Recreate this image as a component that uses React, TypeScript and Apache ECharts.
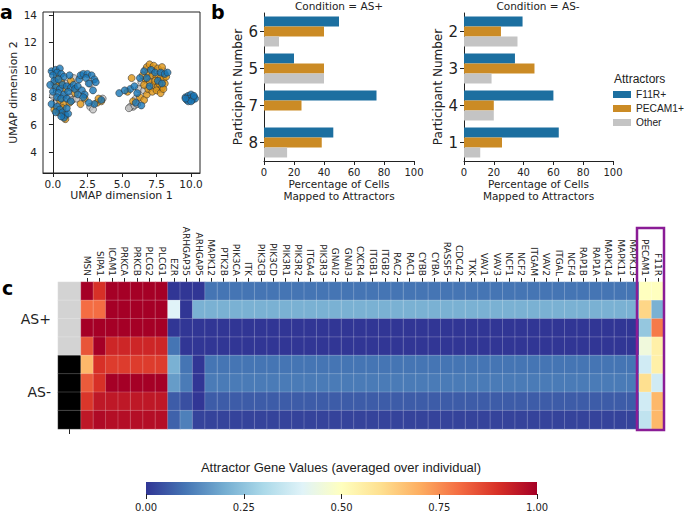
import React, { useEffect, useRef } from 'react';
import * as echarts from 'echarts';

// ---------- Panel a: UMAP scatter ----------
const umapF11R: number[][] = [
  [-0.1, 9.9], [0.2, 10.0], [0.5, 10.1], [0.3, 9.8], [0.0, 9.6], [0.6, 9.7], [0.8, 9.5], [1.2, 9.6],
  [0.1, 9.2], [0.4, 9.3], [-0.2, 8.9], [0.2, 8.7], [0.5, 8.6], [0.7, 8.9], [1.0, 8.8], [1.3, 8.7],
  [0.0, 8.4], [0.4, 8.3], [0.8, 8.2], [1.1, 8.4], [1.5, 8.9], [1.6, 8.6], [1.8, 8.8], [1.9, 9.3],
  [2.0, 9.6], [2.2, 9.7], [2.5, 9.7], [2.8, 9.6], [3.0, 9.3], [3.1, 9.1], [2.4, 9.4], [2.6, 9.0],
  [2.1, 8.5], [2.3, 8.2], [1.8, 8.2], [2.9, 8.5], [0.3, 8.0], [0.6, 7.9], [1.0, 7.9], [1.3, 7.7],
  [-0.1, 7.5], [0.3, 7.3], [0.5, 7.1], [0.7, 6.9], [0.9, 6.7], [0.8, 6.5], [1.1, 6.8], [0.2, 6.9],
  [0.6, 6.6], [1.0, 7.2], [3.0, 7.5], [2.6, 7.6], [3.5, 7.8], [2.2, 8.0],
  [4.8, 8.3], [5.6, 8.6], [5.9, 8.8], [6.1, 8.3], [6.0, 7.6], [6.4, 7.4], [5.2, 8.5], [6.6, 9.9],
  [7.1, 10.0], [7.4, 9.8], [7.8, 9.8], [8.1, 9.7], [8.3, 9.8], [6.8, 9.4], [7.0, 8.8], [7.6, 9.2],
  [7.9, 9.0], [6.3, 9.4],
  [9.6, 8.0], [9.8, 8.1], [10.0, 8.2], [10.2, 8.0], [9.7, 7.8], [9.9, 7.9], [10.1, 7.8], [10.3, 7.9],
  [9.8, 7.7], [10.0, 7.7], [9.6, 7.9], [10.2, 8.1],
];
const umapPECAM1: number[][] = [
  [0.3, 9.5], [0.6, 9.1], [0.2, 8.9], [0.9, 8.6], [1.3, 9.2], [1.6, 8.3], [0.5, 7.8], [0.8, 7.5],
  [0.4, 6.9], [0.7, 7.2], [0.9, 6.4], [2.0, 7.5], [2.3, 7.9], [3.2, 7.6], [3.5, 7.7], [3.3, 7.9],
  [0.1, 7.1], [1.2, 7.6], [0.6, 6.8],
  [5.4, 8.4], [5.7, 9.4], [6.3, 8.0], [5.8, 7.7], [6.6, 7.8], [6.8, 8.2],
  [6.8, 10.2], [7.0, 10.4], [7.3, 10.3], [7.6, 10.1], [7.9, 10.2], [6.9, 9.8], [7.2, 9.6], [7.5, 9.5],
  [7.8, 9.4], [8.0, 9.3], [6.7, 9.3], [7.0, 9.1], [7.3, 8.9], [7.6, 8.8], [7.9, 8.7], [8.1, 9.0],
  [6.9, 8.6], [7.2, 8.4], [7.5, 8.5], [7.8, 8.3], [8.0, 8.6], [6.6, 8.9], [7.4, 9.2], [7.7, 9.0],
  [8.2, 9.5], [6.5, 9.6],
];
const umapOther: number[][] = [
  [0.1, 9.0], [0.4, 8.8], [0.0, 8.1], [0.7, 8.0], [1.2, 8.0], [1.4, 7.8], [1.7, 7.9], [2.7, 7.3],
  [2.9, 7.1], [0.3, 7.6], [0.5, 7.5], [1.5, 9.4], [2.7, 9.0], [0.9, 9.0], [3.6, 7.9],
  [5.8, 7.3], [5.6, 7.3], [5.5, 7.2], [5.9, 7.4], [6.0, 7.9], [6.2, 8.6], [6.1, 7.5],
  [6.7, 10.0], [7.2, 10.1], [7.6, 9.9], [7.3, 9.3], [7.0, 9.4], [7.7, 8.6], [7.4, 8.7], [8.0, 9.9],
  [6.6, 8.5], [7.9, 9.6], [6.4, 9.1],
];
const umapXTicks = [0, 2.5, 5, 7.5, 10];
const umapYTicks = [4, 6, 8, 10, 12, 14];

// ---------- Panel b: attractor percentages ----------
const attractorNames = ['F11R+', 'PECAM1+', 'Other'];
const asPosParticipants = ['6', '5', '7', '8'];
const asPosF11R = [50, 20, 75, 46.2];
const asPosPECAM1 = [40, 40, 25, 38.5];
const asPosOther = [10, 40, 0, 15.4];
const asNegParticipants = ['2', '3', '4', '1'];
const asNegF11R = [39.3, 34.2, 60, 63.6];
const asNegPECAM1 = [24.8, 47.3, 20, 25.5];
const asNegOther = [35.9, 18.5, 20, 10.9];

// ---------- Panel c: heatmap ----------
const genes = [
  'MSN', 'SIPA1', 'ICAM1', 'PRKCA', 'PRKCB', 'PLCG2', 'PLCG1', 'EZR', 'ARHGAP35', 'ARHGAP5',
  'MAPK12', 'PTK2B', 'PIK3CA', 'ITK', 'PIK3CB', 'PIK3CD', 'PIK3R1', 'PIK3R2', 'ITGA4', 'PIK3R3',
  'GNAI2', 'GNAI3', 'CXCR4', 'ITGB1', 'ITGB2', 'RAC2', 'RAC1', 'CYBB', 'CYBA', 'RASSF5',
  'CDC42', 'TXK', 'VAV1', 'VAV3', 'NCF1', 'NCF2', 'ITGAM', 'VAV2', 'ITGAL', 'NCF4',
  'RAP1B', 'RAP1A', 'MAPK14', 'MAPK11', 'MAPK13', 'PECAM1', 'F11R',
];
const sampleIds = ['s1', 's2', 's3', 's4', 's5', 's6', 's7', 's8'];
const sampleCondition = ['AS+', 'AS+', 'AS+', 'AS+', 'AS-', 'AS-', 'AS-', 'AS-'];
const conditionLabels = ['AS+', 'AS-'];

const row1 = [1.00, 0.90, 1.00, 1.00, 1.00, 1.00, 1.00, 0.00, 0.00, 0.00,
  0.10, 0.10, 0.10, 0.10, 0.10, 0.10, 0.10, 0.10, 0.10, 0.10,
  0.10, 0.10, 0.10, 0.10, 0.10, 0.10, 0.10, 0.10, 0.10, 0.10,
  0.10, 0.10, 0.10, 0.10, 0.10, 0.10, 0.10, 0.10, 0.10, 0.10,
  0.10, 0.10, 0.10, 0.10, 0.10, 0.50, 0.50];
const row2 = [0.80, 0.80, 1.00, 1.00, 1.00, 1.00, 1.00, 0.40, 0.00, 0.21,
  0.21, 0.21, 0.21, 0.21, 0.21, 0.21, 0.21, 0.21, 0.21, 0.21,
  0.21, 0.21, 0.21, 0.21, 0.21, 0.21, 0.21, 0.21, 0.21, 0.21,
  0.21, 0.21, 0.21, 0.21, 0.21, 0.21, 0.21, 0.21, 0.21, 0.21,
  0.21, 0.21, 0.21, 0.21, 0.21, 0.62, 0.21];
const row3 = [1.00, 1.00, 1.00, 1.00, 1.00, 1.00, 1.00, 0.00, 0.00, 0.00,
  0.00, 0.00, 0.00, 0.00, 0.00, 0.00, 0.00, 0.00, 0.00, 0.00,
  0.00, 0.00, 0.00, 0.00, 0.00, 0.00, 0.00, 0.00, 0.00, 0.00,
  0.00, 0.00, 0.00, 0.00, 0.00, 0.00, 0.00, 0.00, 0.00, 0.00,
  0.00, 0.00, 0.00, 0.00, 0.00, 0.26, 0.78];
const row4 = [0.84, 1.00, 0.92, 0.92, 0.92, 0.92, 0.92, 0.10, 0.00, 0.00,
  0.00, 0.00, 0.00, 0.00, 0.00, 0.00, 0.00, 0.00, 0.00, 0.00,
  0.00, 0.00, 0.00, 0.00, 0.00, 0.00, 0.00, 0.00, 0.00, 0.00,
  0.00, 0.00, 0.00, 0.00, 0.00, 0.00, 0.00, 0.00, 0.00, 0.00,
  0.00, 0.00, 0.00, 0.00, 0.00, 0.45, 0.55];
const row5 = [0.68, 0.90, 0.88, 0.88, 0.88, 0.88, 0.88, 0.21, 0.10, 0.00,
  0.10, 0.10, 0.10, 0.10, 0.10, 0.10, 0.10, 0.10, 0.10, 0.10,
  0.10, 0.10, 0.10, 0.10, 0.10, 0.10, 0.10, 0.10, 0.10, 0.10,
  0.10, 0.10, 0.10, 0.10, 0.10, 0.10, 0.10, 0.10, 0.10, 0.10,
  0.10, 0.10, 0.10, 0.10, 0.10, 0.37, 0.55];
const row6 = [0.83, 0.90, 1.00, 1.00, 1.00, 1.00, 1.00, 0.17, 0.11, 0.00,
  0.11, 0.11, 0.11, 0.11, 0.11, 0.11, 0.11, 0.11, 0.11, 0.11,
  0.11, 0.11, 0.11, 0.11, 0.11, 0.11, 0.11, 0.11, 0.11, 0.11,
  0.11, 0.11, 0.11, 0.11, 0.11, 0.11, 0.11, 0.11, 0.11, 0.11,
  0.11, 0.11, 0.11, 0.11, 0.11, 0.60, 0.37];
const row7 = [0.89, 0.95, 0.95, 0.95, 0.95, 0.95, 0.95, 0.06, 0.04, 0.00,
  0.06, 0.06, 0.06, 0.06, 0.06, 0.06, 0.06, 0.06, 0.06, 0.06,
  0.06, 0.06, 0.06, 0.06, 0.06, 0.06, 0.06, 0.06, 0.06, 0.06,
  0.06, 0.06, 0.06, 0.06, 0.06, 0.06, 0.06, 0.06, 0.06, 0.06,
  0.06, 0.06, 0.06, 0.06, 0.06, 0.37, 0.68];
const row8 = [0.95, 0.98, 0.97, 0.97, 0.97, 0.97, 0.97, 0.07, 0.12, 0.02,
  0.02, 0.02, 0.02, 0.02, 0.02, 0.02, 0.02, 0.02, 0.02, 0.02,
  0.02, 0.02, 0.02, 0.02, 0.02, 0.02, 0.02, 0.02, 0.02, 0.02,
  0.02, 0.02, 0.02, 0.02, 0.02, 0.02, 0.02, 0.02, 0.02, 0.02,
  0.02, 0.02, 0.02, 0.02, 0.02, 0.34, 0.68];
const geneRows = [row1, row2, row3, row4, row5, row6, row7, row8];

const RDYLBU_R = ['#313695', '#4575b4', '#74add1', '#abd9e9', '#e0f3f8', '#ffffbf',
  '#fee090', '#fdae61', '#f46d43', '#d73027', '#a50026'];

const INK = '#222222';
const BAR_COLORS = ['#1c6fa0', '#cb8b25', '#c4c4c4'];
const DOT_COLORS = ['#1877b8', '#de9514', '#c2c2c2'];

function buildOption(): any {
  const axisLine = { show: true, lineStyle: { color: INK, width: 1 } };
  const axisTick = { show: true, length: 4, lineStyle: { color: INK, width: 1 } };

  const geneData: number[][] = [];
  geneRows.forEach((row, r) => row.forEach((v, c) => geneData.push([c, r, v])));
  const condData = sampleCondition.map((c, r) => [0, r, conditionLabels.indexOf(c)]);

  const scatterCommon = (name: string, data: number[][], color: string) => ({
    type: 'scatter', name, data, xAxisIndex: 0, yAxisIndex: 0, symbolSize: 7,
    itemStyle: { color, borderColor: '#333', borderWidth: 0.7 },
  });
  const barSeries = (name: string, data: number[], axis: number, color: string) => ({
    type: 'bar', name, data, xAxisIndex: axis, yAxisIndex: axis, barWidth: 10, barGap: '0%',
    itemStyle: { color },
  });

  const pctAxis = (grid: number) => ({
    type: 'value', gridIndex: grid, min: 0, max: 100, interval: 20,
    axisLine, axisTick, splitLine: { show: false },
    axisLabel: { color: INK, fontSize: 10, margin: 6 },
    name: 'Percentage of Cells\nMapped to Attractors', nameLocation: 'middle', nameGap: 17,
    nameTextStyle: { color: INK, fontSize: 10.5, lineHeight: 12 },
  });
  const partAxis = (grid: number, data: string[]) => ({
    type: 'category', gridIndex: grid, data, inverse: true,
    axisLine, axisTick: { ...axisTick, alignWithLabel: true },
    axisLabel: { color: INK, fontSize: 15, margin: 6 },
    name: 'Participant Number', nameLocation: 'middle', nameGap: 20,
    nameTextStyle: { color: INK, fontSize: 12 },
  });

  return {
    animation: false,
    textStyle: { fontFamily: 'DejaVu Sans' },
    grid: [
      { left: 43, top: 12, width: 157, height: 161, show: true, borderColor: INK, borderWidth: 1, backgroundColor: 'transparent' },
      { left: 264, top: 13, width: 150, height: 148 },
      { left: 464, top: 13, width: 149, height: 148 },
      { left: 58, top: 282, width: 23, height: 147 },
      { left: 81, top: 282, width: 583, height: 147 },
      { left: 146, top: 482, width: 391, height: 13 },
    ],
    xAxis: [
      {
        type: 'value', gridIndex: 0, min: -0.72, max: 10.65, axisLine,
        axisTick: { ...axisTick, customValues: umapXTicks },
        axisLabel: { color: INK, fontSize: 10.5, margin: 5, customValues: umapXTicks, formatter: (v: number) => v.toFixed(1) },
        splitLine: { show: false },
        name: 'UMAP dimension 1', nameLocation: 'middle', nameGap: 15,
        nameTextStyle: { color: INK, fontSize: 11 },
      },
      pctAxis(1),
      pctAxis(2),
      {
        type: 'category', gridIndex: 3, data: [''], position: 'bottom',
        axisLine: { show: false }, axisTick: { show: true, alignWithLabel: true, length: 5, lineStyle: { color: INK } },
        axisLabel: { show: false },
      },
      {
        type: 'category', gridIndex: 4, data: genes, position: 'top',
        axisLine: { show: false },
        axisTick: { show: true, alignWithLabel: true, interval: 0, length: 4, lineStyle: { color: INK } },
        axisLabel: { interval: 0, rotate: 90, fontSize: 9, color: INK, margin: 6 },
      },
      {
        type: 'value', gridIndex: 5, min: 0, max: 1, interval: 0.25, position: 'bottom',
        axisLine: { show: false }, axisTick: { show: true, length: 5, lineStyle: { color: INK } },
        axisLabel: { color: INK, fontSize: 10, margin: 8, formatter: (v: number) => v.toFixed(2) },
        splitLine: { show: false },
      },
    ],
    yAxis: [
      {
        type: 'value', gridIndex: 0, min: 2.47, max: 14.22, axisLine,
        axisTick: { ...axisTick, customValues: umapYTicks },
        axisLabel: { color: INK, fontSize: 10.5, margin: 6, customValues: umapYTicks },
        splitLine: { show: false },
        name: 'UMAP dimension 2', nameLocation: 'middle', nameGap: 24,
        nameTextStyle: { color: INK, fontSize: 11 },
      },
      partAxis(1, asPosParticipants),
      partAxis(2, asNegParticipants),
      { type: 'category', gridIndex: 3, data: sampleIds, inverse: true, show: false },
      { type: 'category', gridIndex: 4, data: sampleIds, inverse: true, show: false },
      { type: 'value', gridIndex: 5, show: false, min: 0, max: 1 },
      {
        type: 'category', gridIndex: 3, data: conditionLabels, inverse: true, position: 'left',
        axisLine: { show: false }, axisTick: { show: false },
        axisLabel: { color: INK, fontSize: 14, margin: 7 },
      },
    ],
    visualMap: [
      { type: 'continuous', seriesIndex: 10, min: 0, max: 1, show: false, inRange: { color: RDYLBU_R } },
      {
        type: 'piecewise', seriesIndex: 9, show: false,
        pieces: [{ value: 0, color: '#d3d3d3' }, { value: 1, color: '#000000' }],
      },
    ],
    legend: {
      data: attractorNames, orient: 'vertical', left: 613, top: 88, padding: 0,
      itemWidth: 18, itemHeight: 7, itemGap: 1, icon: 'rect',
      textStyle: { color: INK, fontSize: 10.2, fontFamily: 'Liberation Sans', lineHeight: 13, overflow: 'none' },
    },
    series: [
      scatterCommon('Other cells', umapOther, DOT_COLORS[2]),
      scatterCommon('PECAM1+ cells', umapPECAM1, DOT_COLORS[1]),
      scatterCommon('F11R+ cells', umapF11R, DOT_COLORS[0]),
      barSeries('F11R+', asPosF11R, 1, BAR_COLORS[0]),
      barSeries('PECAM1+', asPosPECAM1, 1, BAR_COLORS[1]),
      barSeries('Other', asPosOther, 1, BAR_COLORS[2]),
      barSeries('F11R+', asNegF11R, 2, BAR_COLORS[0]),
      barSeries('PECAM1+', asNegPECAM1, 2, BAR_COLORS[1]),
      barSeries('Other', asNegOther, 2, BAR_COLORS[2]),
      {
        type: 'heatmap', name: 'condition', data: condData, xAxisIndex: 3, yAxisIndex: 3,
        itemStyle: { borderColor: 'rgba(255,255,255,0.35)', borderWidth: 0.6 },
      },
      {
        type: 'heatmap', name: 'genes', data: geneData, xAxisIndex: 4, yAxisIndex: 4,
        itemStyle: { borderColor: 'rgba(255,255,255,0.35)', borderWidth: 0.6 },
      },
    ],
    graphic: [
      { type: 'text', left: 0, top: 2, style: { text: 'a', fontSize: 19, fontWeight: 'bold', fill: '#000', fontFamily: 'DejaVu Sans' } },
      { type: 'text', left: 211, top: 2, style: { text: 'b', fontSize: 19, fontWeight: 'bold', fill: '#000', fontFamily: 'DejaVu Sans' } },
      { type: 'text', left: 2, top: 278, style: { text: 'c', fontSize: 19, fontWeight: 'bold', fill: '#000', fontFamily: 'DejaVu Sans' } },
      { type: 'text', x: 339, y: 6, style: { text: 'Condition = AS+', fontSize: 10.5, fill: INK, align: 'center', verticalAlign: 'middle', fontFamily: 'DejaVu Sans' } },
      { type: 'text', x: 538, y: 6, style: { text: 'Condition = AS-', fontSize: 10.5, fill: INK, align: 'center', verticalAlign: 'middle', fontFamily: 'DejaVu Sans' } },
      { type: 'text', x: 614, y: 79, style: { text: 'Attractors', fontSize: 12, fill: INK, align: 'left', verticalAlign: 'middle', fontFamily: 'Liberation Sans' } },
      { type: 'text', x: 341, y: 467, style: { text: 'Attractor Gene Values (averaged over individual)', fontSize: 13, fill: INK, align: 'center', verticalAlign: 'middle', fontFamily: 'Liberation Sans' } },
      {
        type: 'rect', shape: { x: 146, y: 482, width: 391, height: 13 },
        style: {
          fill: {
            type: 'linear', x: 0, y: 0, x2: 1, y2: 0,
            colorStops: RDYLBU_R.map((c, i) => ({ offset: i / (RDYLBU_R.length - 1), color: c })),
          },
        },
      },
      { type: 'rect', z: 100, shape: { x: 637, y: 228, width: 27, height: 202 }, style: { fill: 'none', stroke: '#8a1c96', lineWidth: 2.5 } },
    ],
  };
}

export default function App() {
  const ref = useRef<HTMLDivElement>(null);
  useEffect(() => {
    if (!ref.current) return;
    const chart = echarts.init(ref.current, undefined, { renderer: 'svg' });
    chart.setOption(buildOption());
    return () => chart.dispose();
  }, []);
  return (
    <div
      ref={ref}
      style={{ position: 'fixed', left: 0, top: 0, width: 685, height: 512, background: '#ffffff' }}
    />
  );
}
